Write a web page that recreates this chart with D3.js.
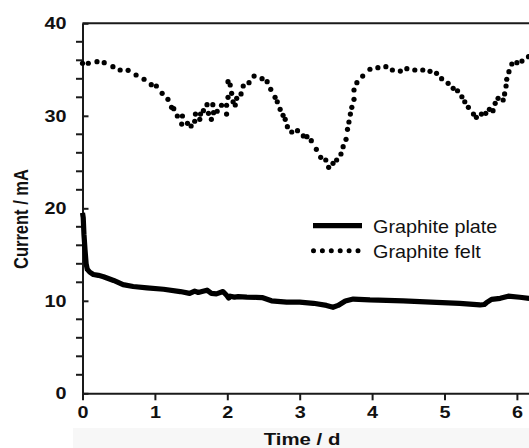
<!DOCTYPE html>
<html><head><meta charset="utf-8">
<script src="https://cdn.jsdelivr.net/npm/d3@7"></script>
<style>html,body{margin:0;padding:0;background:#fff}svg{display:block}</style>
</head><body><div id="chart"></div>
<script>
// ---- data ----
const xTicks = [0,1,2,3,4,5,6];
const yTicks = [0,10,20,30,40];
const yMinorTicks = [2,4,6,8,12,14,16,18,22,24,26,28,32,34,36,38];
const seriesNames = ["Graphite plate","Graphite felt"];
const xLabel = "Time / d";
const yLabel = "Current / mA";

// Graphite plate (solid line): [day, mA]
const plateDays = [0,0.01,0.02,0.035,0.05,0.066,0.10,0.15,0.22,0.29,0.43,0.56,0.70,0.89,1.12,1.35,1.48,1.55,1.60,1.65,1.72,1.78,1.85,1.94,1.99,2.02,2.04,2.10,2.15,2.27,2.40,2.48,2.61,2.82,3.00,3.19,3.37,3.46,3.53,3.63,3.74,3.97,4.43,4.89,5.21,5.49,5.55,5.58,5.65,5.77,5.88,6.04,6.17];
const plateCurrent = [19.5,19.0,17.2,15.5,14.0,13.4,13.1,12.85,12.75,12.6,12.2,11.75,11.55,11.4,11.25,11.0,10.8,11.05,10.9,11.0,11.15,10.8,10.75,11.0,10.6,10.3,10.5,10.4,10.45,10.4,10.38,10.35,10.0,9.85,9.85,9.73,9.5,9.3,9.5,9.98,10.19,10.1,10.0,9.84,9.73,9.55,9.6,9.8,10.15,10.27,10.5,10.38,10.27];

// Graphite felt (dotted): [day, mA]
const feltDays = [0.00,0.08,0.20,0.30,0.42,0.52,0.63,0.74,0.85,0.95,1.02,1.10,1.18,1.23,1.26,1.31,1.38,1.37,1.45,1.50,1.55,1.56,1.62,1.63,1.67,1.72,1.74,1.78,1.80,1.81,1.86,1.92,1.99,1.99,2.01,2.01,2.04,2.06,2.08,2.11,2.13,2.19,2.22,2.30,2.37,2.48,2.55,2.60,2.66,2.69,2.73,2.77,2.80,2.83,2.89,2.97,3.05,3.10,3.16,3.23,3.29,3.36,3.40,3.46,3.51,3.57,3.60,3.64,3.66,3.68,3.70,3.72,3.75,3.75,3.79,3.87,3.97,4.08,4.19,4.28,4.39,4.48,4.59,4.70,4.80,4.89,4.96,5.05,5.12,5.18,5.24,5.28,5.33,5.40,5.44,5.51,5.57,5.62,5.67,5.70,5.74,5.81,5.83,5.85,5.86,5.89,5.93,6.00,6.07,6.16];
const feltCurrent = [35.68,35.68,35.85,35.74,35.31,34.95,34.92,34.41,33.95,33.36,33.22,32.43,31.78,30.92,30.77,29.98,29.98,29.11,29.19,28.90,29.41,30.19,29.62,30.19,30.55,31.20,30.27,29.62,31.20,30.34,30.49,31.14,31.14,30.19,32.0,33.69,33.33,32.43,31.52,31.17,31.89,32.36,33.22,33.58,34.30,34.01,33.69,32.86,32.0,31.52,30.70,30.05,29.62,28.82,28.25,28.39,27.82,27.74,27.31,26.38,25.51,25.22,24.43,24.86,25.22,25.87,26.66,27.46,28.54,29.33,30.19,30.92,31.78,32.79,33.58,34.30,35.03,35.20,35.31,34.95,34.84,35.09,34.95,34.95,34.81,34.59,34.01,33.51,32.97,32.71,32.06,31.52,30.92,30.19,29.84,30.19,30.27,30.70,30.55,31.35,31.89,31.71,32.36,33.22,33.95,34.77,35.60,35.74,35.92,36.39];

// ---- drawing ----
const W = 529, H = 448;
const SX = 1.2; // horizontal text stretch seen in the reference
const svg = d3.select("#chart").append("svg").attr("width", W).attr("height", H);
const x = d3.scaleLinear().domain([0, 6.5]).range([82.5, 82.5 + 6.5 * 72.4]);
const y = d3.scaleLinear().domain([0, 40]).range([393.3, 23.3]);
const axisColor = "#1a1a1a";
const font = "'Liberation Sans', Arial, sans-serif";

// faint panel at bottom
svg.append("rect").attr("x", 73).attr("y", 428).attr("width", W - 73).attr("height", H - 428).attr("fill", "#f7f7f7");

// top border
svg.append("line").attr("x1", x(0)).attr("x2", W).attr("y1", y(40)).attr("y2", y(40))
  .attr("stroke", axisColor).attr("stroke-width", 2);

// y axis
const yAxis = svg.append("g").attr("transform", `translate(${x(0)},0)`)
  .call(d3.axisLeft(y).tickValues(yTicks).tickSize(6.5).tickSizeOuter(0).tickPadding(16).tickFormat(d3.format("d")));
yAxis.select(".domain").attr("stroke", axisColor).attr("stroke-width", 2);
yAxis.selectAll(".tick line").attr("stroke", axisColor).attr("stroke-width", 2).attr("x2", 6);
yAxis.selectAll(".tick text").attr("font-family", font).attr("font-weight", "bold").attr("font-size", 16.5)
  .attr("fill", "#111").attr("x", -16 / SX).attr("transform", `scale(${SX},1)`);
svg.append("g").selectAll("line").data(yMinorTicks).join("line")
  .attr("x1", x(0) - 6.5).attr("x2", x(0)).attr("y1", d => y(d)).attr("y2", d => y(d))
  .attr("stroke", axisColor).attr("stroke-width", 2);

// x axis
const xAxis = svg.append("g").attr("transform", `translate(0,${y(0)})`)
  .call(d3.axisBottom(x).tickValues(xTicks).tickSize(7).tickSizeOuter(0).tickPadding(6).tickFormat(d3.format("d")));
xAxis.select(".domain").attr("stroke", axisColor).attr("stroke-width", 2);
xAxis.selectAll(".tick line").attr("stroke", axisColor).attr("stroke-width", 2);
xAxis.selectAll(".tick text").attr("font-family", font).attr("font-weight", "bold").attr("font-size", 16.5)
  .attr("fill", "#111").attr("transform", `scale(${SX},1)`);

// axis titles
svg.append("text").attr("transform", `translate(302,444.5) scale(${SX},1)`).attr("text-anchor", "middle")
  .attr("font-family", font).attr("font-weight", "bold").attr("font-size", 17).attr("fill", "#111").text(xLabel);
svg.append("text").attr("transform", `translate(27.5,219) scale(${SX},1) rotate(-90)`).attr("text-anchor", "middle")
  .attr("font-family", font).attr("font-weight", "bold").attr("font-size", 16.5).attr("fill", "#111").text(yLabel);

// plate line
const plate = plateDays.map((d, i) => [d, plateCurrent[i]]);
svg.append("path").datum(plate)
  .attr("d", d3.line().x(d => x(d[0])).y(d => y(d[1])))
  .attr("fill", "none").attr("stroke", "#000").attr("stroke-width", 5.2).attr("stroke-linejoin", "round");

// felt dots
const felt = feltDays.map((d, i) => [d, feltCurrent[i]]);
svg.append("g").selectAll("circle").data(felt).join("circle")
  .attr("cx", d => x(d[0])).attr("cy", d => y(d[1])).attr("r", 2.6).attr("fill", "#000");

// legend
const lg = svg.append("g");
lg.append("line").attr("x1", 313).attr("x2", 362).attr("y1", 225.7).attr("y2", 225.7)
  .attr("stroke", "#000").attr("stroke-width", 5.2);
lg.append("line").attr("x1", 313.5).attr("x2", 362).attr("y1", 250.7).attr("y2", 250.7)
  .attr("stroke", "#000").attr("stroke-width", 5).attr("stroke-linecap", "round").attr("stroke-dasharray", "0 8.9");
lg.selectAll("text").data(seriesNames).join("text")
  .attr("transform", (d, i) => `translate(373,${232.5 + i * 25}) scale(1.1,1)`)
  .attr("font-family", font).attr("font-size", 18).attr("fill", "#111").text(d => d);
</script></body></html>
